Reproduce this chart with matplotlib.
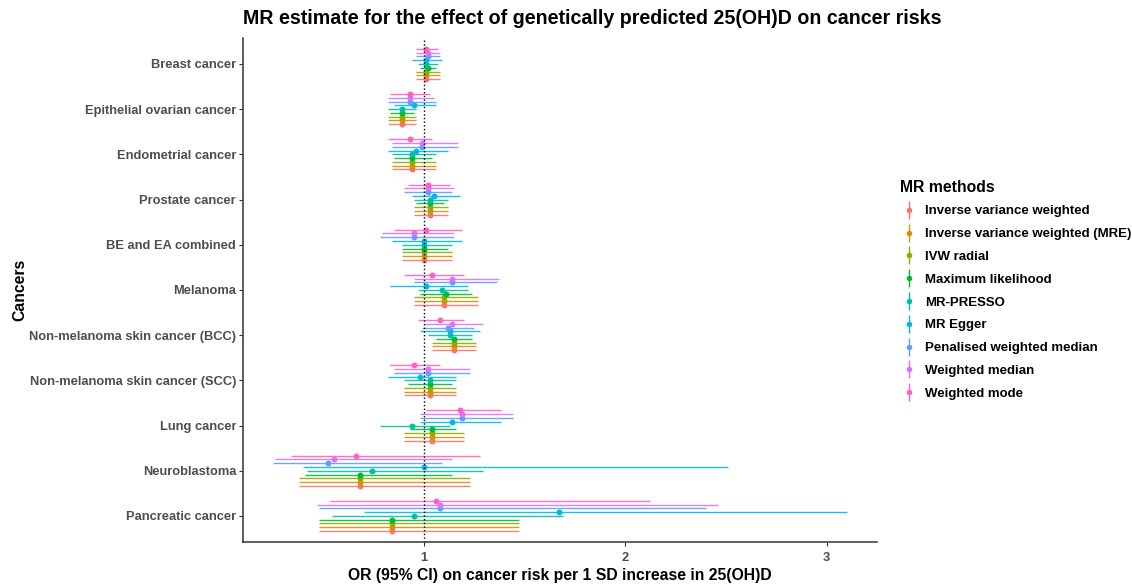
import matplotlib
matplotlib.use("Agg")
import matplotlib.pyplot as plt
import numpy as np
from matplotlib.lines import Line2D
from matplotlib.legend_handler import HandlerTuple

plt.rcParams['font.family'] = ['Liberation Sans', 'DejaVu Sans']

cancers = ["Breast cancer", "Epithelial ovarian cancer", "Endometrial cancer",
           "Prostate cancer", "BE and EA combined", "Melanoma",
           "Non-melanoma skin cancer (BCC)", "Non-melanoma skin cancer (SCC)",
           "Lung cancer", "Neuroblastoma", "Pancreatic cancer"]

methods = ["Inverse variance weighted", "Inverse variance weighted (MRE)",
           "IVW radial", "Maximum likelihood", "MR-PRESSO", "MR Egger",
           "Penalised weighted median", "Weighted median", "Weighted mode"]

colors = ["#F8766D", "#D39200", "#93AA00", "#00BA38", "#00C19F",
          "#00B9E3", "#619CFF", "#DB72FB", "#FF61C3"]

# rows = methods, columns = cancers (top to bottom)
est = [
    [1.01, 0.89, 0.94, 1.03, 1.00, 1.10, 1.15, 1.03, 1.04, 0.68, 0.84],
    [1.01, 0.89, 0.94, 1.03, 1.00, 1.10, 1.15, 1.03, 1.04, 0.68, 0.84],
    [1.01, 0.89, 0.94, 1.03, 1.00, 1.10, 1.15, 1.03, 1.04, 0.68, 0.84],
    [1.02, 0.89, 0.94, 1.03, 1.00, 1.11, 1.15, 1.03, 1.04, 0.68, 0.84],
    [1.01, 0.89, 0.94, 1.03, 1.00, 1.09, 1.13, 1.03, 0.94, 0.74, 0.95],
    [1.01, 0.95, 0.96, 1.05, 1.00, 1.01, 1.13, 0.98, 1.14, 1.00, 1.67],
    [1.02, 0.93, 0.99, 1.02, 0.95, 1.14, 1.12, 1.02, 1.19, 0.52, 1.08],
    [1.02, 0.93, 0.99, 1.02, 0.95, 1.14, 1.14, 1.02, 1.19, 0.55, 1.08],
    [1.01, 0.93, 0.93, 1.02, 1.01, 1.04, 1.08, 0.95, 1.18, 0.66, 1.06],
]
ci_lo = [
    [0.96, 0.82, 0.84, 0.95, 0.89, 0.95, 1.04, 0.90, 0.90, 0.38, 0.48],
    [0.96, 0.82, 0.84, 0.95, 0.89, 0.95, 1.04, 0.90, 0.90, 0.38, 0.48],
    [0.96, 0.82, 0.84, 0.95, 0.89, 0.95, 1.04, 0.90, 0.90, 0.38, 0.48],
    [0.98, 0.83, 0.85, 0.96, 0.89, 0.98, 1.06, 0.92, 0.93, 0.41, 0.48],
    [0.97, 0.82, 0.84, 0.95, 0.89, 0.97, 1.02, 0.90, 0.78, 0.42, 0.54],
    [0.94, 0.85, 0.82, 0.94, 0.84, 0.83, 0.98, 0.82, 0.98, 0.40, 0.70],
    [0.96, 0.82, 0.84, 0.90, 0.78, 0.95, 0.99, 0.85, 0.98, 0.25, 0.48],
    [0.96, 0.82, 0.84, 0.90, 0.79, 0.95, 1.00, 0.85, 0.98, 0.26, 0.47],
    [0.96, 0.83, 0.82, 0.92, 0.85, 0.90, 0.97, 0.83, 1.01, 0.34, 0.53],
]
ci_hi = [
    [1.08, 0.96, 1.06, 1.12, 1.14, 1.27, 1.26, 1.16, 1.20, 1.23, 1.47],
    [1.08, 0.96, 1.06, 1.12, 1.14, 1.27, 1.26, 1.16, 1.20, 1.23, 1.47],
    [1.08, 0.96, 1.06, 1.12, 1.14, 1.27, 1.26, 1.16, 1.20, 1.23, 1.47],
    [1.06, 0.95, 1.04, 1.10, 1.12, 1.24, 1.24, 1.14, 1.16, 1.14, 1.47],
    [1.07, 0.96, 1.06, 1.12, 1.14, 1.22, 1.24, 1.16, 1.13, 1.29, 1.69],
    [1.09, 1.06, 1.12, 1.18, 1.19, 1.22, 1.28, 1.16, 1.38, 2.51, 3.10],
    [1.08, 1.06, 1.17, 1.14, 1.15, 1.36, 1.25, 1.23, 1.44, 1.09, 2.40],
    [1.08, 1.05, 1.17, 1.15, 1.15, 1.37, 1.29, 1.23, 1.44, 1.14, 2.46],
    [1.07, 1.03, 1.04, 1.13, 1.19, 1.20, 1.20, 1.08, 1.38, 1.28, 2.12],
]

fig = plt.figure(figsize=(11.32, 5.87), dpi=100)
ax = fig.add_axes([243/1132, 45.3/587, 634/1132, 503.7/587])

ncat = len(cancers)
ypos = np.arange(ncat)[::-1]  # Breast at top
step = 0.75 / len(methods)

for j, m in enumerate(methods):
    y = ypos + (j - (len(methods) - 1) / 2) * step
    ax.hlines(y, ci_lo[j], ci_hi[j], color=colors[j], lw=1.0, alpha=0.9)
    ax.plot(est[j], y, 'o', color=colors[j], ms=4.3, mec='none', ls='none')

ax.axvline(1, color='black', ls=':', lw=1)

ax.set_xlim(0.1, 3.25)
ax.set_ylim(-0.57, ncat - 1 + 0.575)
ax.set_xticks([1, 2, 3])
ax.set_yticks(ypos)
ax.set_yticklabels(cancers)
for lab in ax.get_xticklabels() + ax.get_yticklabels():
    lab.set_fontweight('bold')
    lab.set_color('#4D4D4D')
    lab.set_fontsize(9.3)
ax.tick_params(length=3, width=0.8, color='#333333')
ax.tick_params(axis='x', pad=4.5)
ax.tick_params(axis='y', pad=2)
for s in ['top', 'right']:
    ax.spines[s].set_visible(False)
for s in ['left', 'bottom']:
    ax.spines[s].set_linewidth(1.1)
    ax.spines[s].set_color('#333333')

ax.set_xlabel("OR (95% CI) on cancer risk per 1 SD increase in 25(OH)D",
              fontsize=11.3, fontweight='bold', labelpad=3)
ax.set_ylabel("Cancers", fontsize=11.3, fontweight='bold', labelpad=1.5)
ax.set_title("MR estimate for the effect of genetically predicted 25(OH)D on cancer risks",
             fontsize=14.1, fontweight='bold', pad=10, loc='left')

handles = []
for c in colors:
    vline = Line2D([], [], marker='|', color=c, ms=13.5, mew=1.0, ls='none')
    dot = Line2D([], [], marker='o', color=c, ms=4, mec='none', ls='none')
    handles.append((vline, dot))
leg = fig.legend(handles, methods, loc='upper left',
                 bbox_to_anchor=(893/1132, 1 - 173/587), frameon=False,
                 handler_map={tuple: HandlerTuple(ndivide=1, pad=0)},
                 title="MR methods", alignment='left', borderpad=0,
                 prop={'weight': 'bold', 'size': 9.5},
                 title_fontproperties={'weight': 'bold', 'size': 11.3},
                 labelspacing=0.8, handlelength=1.5, handletextpad=0.4)

fig.savefig("out.png", dpi=100)
